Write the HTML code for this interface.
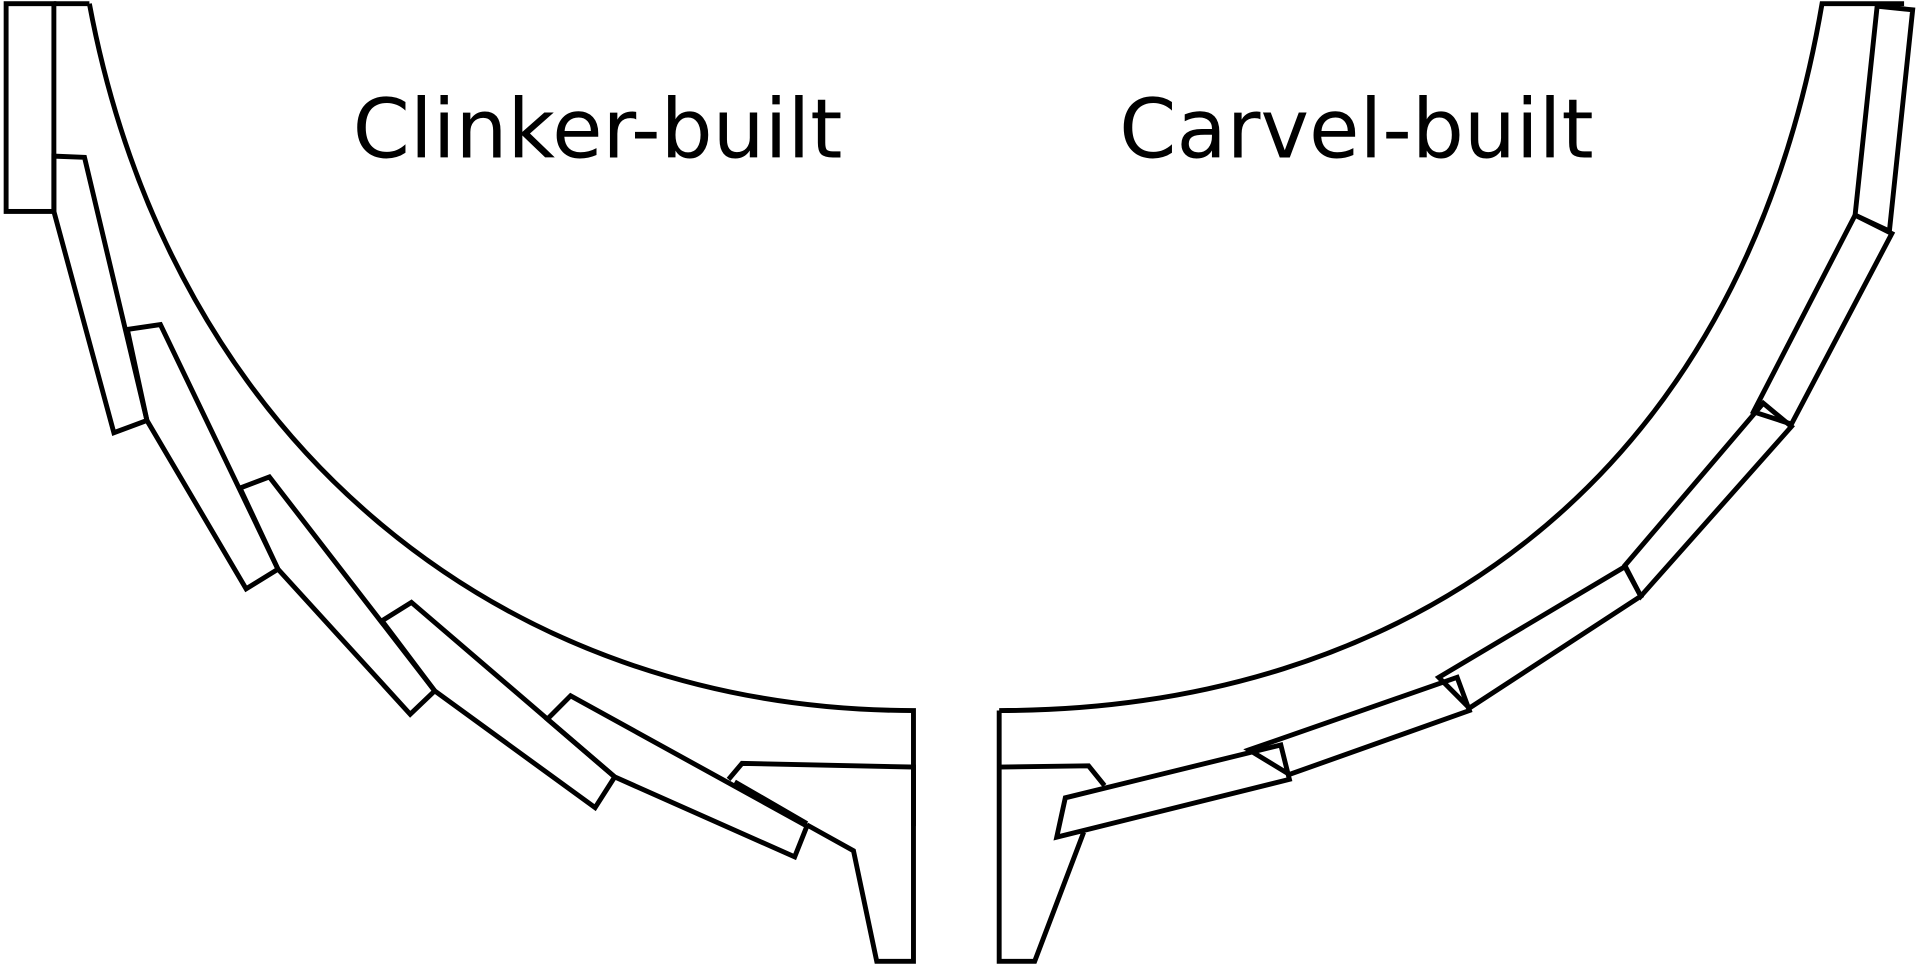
<!DOCTYPE html>
<html><head><meta charset="utf-8"><style>
html,body{margin:0;padding:0;background:#fff;width:1920px;height:965px;overflow:hidden}
svg{display:block}
</style></head><body>
<svg width="1920" height="965" viewBox="0 0 1568 785" preserveAspectRatio="none" xmlns="http://www.w3.org/2000/svg">
<g fill="none" stroke="#000" stroke-width="4" stroke-linejoin="miter">
<!-- left -->
<rect x="5" y="3" width="39" height="169"/>
<line x1="44" y1="3" x2="73" y2="3"/>
<path d="M73,3 C140,360 410,578 746,578 L746,672"/>
<polygon points="44,127 69,128 120,342 93,352 44,172"/>
<polygon points="104,268 131,264 227,463 201,479 120,342"/>
<polygon points="196,397 220,388 355,562 335,581 227,463"/>
<polygon points="312,505 336,490 502,632 486,657 355,562"/>
<polygon points="447,585 466,566 659,672 649,697 502,632"/>
<polyline points="595,634 606,621 746,624 746,782 716,782 697,692 659,671"/>
<line x1="600" y1="636" x2="659" y2="670"/>
<!-- right -->
<path d="M816,578 C1140,578 1420,400 1488,3 L1555,3"/>
<polyline points="816,578 816,782 845,782 885,677"/>
<polyline points="816,624 889,623 902,639"/>
<polygon points="870,649 1046,606 1053,634 863,681"/>
<polygon points="1020,610 1190,551 1200,578 1053,630"/>
<polygon points="1175,551 1327,461 1340,485 1200,576"/>
<polygon points="1327,460 1440,328 1463,347 1340,485"/>
<polygon points="1432,335 1515,175 1545,190 1463,345"/>
<polygon points="1515,175 1533,5 1562,8 1543,188"/>
</g>
<g font-family="DejaVu Sans, sans-serif" font-size="67" fill="#000">
<text x="288" y="128">Clinker-built</text>
<text x="914" y="128">Carvel-built</text>
</g>
</svg>
</body></html>
